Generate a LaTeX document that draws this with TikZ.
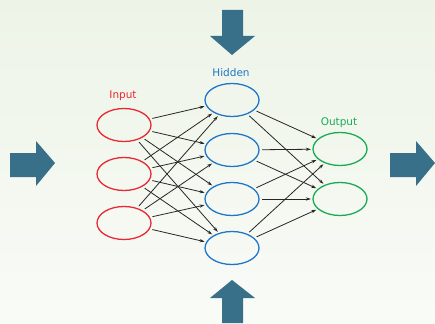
\documentclass[tikz,border=0pt]{standalone}
\usepackage{fontspec}
\setmainfont{DejaVu Sans}
\usetikzlibrary{arrows.meta,shapes.geometric}
\definecolor{bgtop}{RGB}{237,244,231}
\definecolor{bgbot}{RGB}{249,251,247}
\definecolor{arrowblue}{RGB}{56,112,137}
\definecolor{inred}{RGB}{232,40,50}
\definecolor{hidblue}{RGB}{30,118,200}
\definecolor{outgreen}{RGB}{25,170,85}
\tikzset{
  neuron/.style={ellipse,draw,line width=1.3pt,minimum width=54pt,minimum height=33pt,inner sep=0pt},
  inneuron/.style={neuron,draw=inred},
  hidneuron/.style={neuron,draw=hidblue},
  outneuron/.style={neuron,draw=outgreen},
  conn/.style={draw=black!85,line width=0.8pt,-{Stealth[length=5pt,width=3.2pt]},shorten >=1.5pt,shorten <=2.5pt},
  lbl/.style={font=\fontsize{10.5}{12}\selectfont,inner sep=0pt},
  bigarrow/.style={fill=arrowblue,draw=none}
}
\begin{document}
\begin{tikzpicture}[x=1pt,y=-1pt]
\shade[top color=bgtop,bottom color=bgbot] (0,0) rectangle (435,323);
\useasboundingbox (0,0) rectangle (435,323);
% big arrows
\fill[bigarrow] (222,10) -- (243,10) -- (243,36) -- (255,36) -- (232,55) -- (210,36) -- (222,36) -- cycle;
\fill[bigarrow] (222,323) -- (243,323) -- (243,298) -- (255,298) -- (232,280) -- (210,298) -- (222,298) -- cycle;
\fill[bigarrow] (10,153) -- (36,153) -- (36,141) -- (55,163) -- (36,186) -- (36,177) -- (10,177) -- cycle;
\fill[bigarrow] (390,153) -- (416,153) -- (416,141) -- (435,163) -- (416,186) -- (416,177) -- (390,177) -- cycle;
% neurons
\node[inneuron] (i1) at (124,125) {};
\node[inneuron] (i2) at (124,174) {};
\node[inneuron] (i3) at (124,223) {};
\node[hidneuron] (h1) at (232,100) {};
\node[hidneuron] (h2) at (232,150) {};
\node[hidneuron] (h3) at (232,199) {};
\node[hidneuron] (h4) at (232,248) {};
\node[outneuron] (o1) at (340,149) {};
\node[outneuron] (o2) at (340,199) {};
% labels
\node[lbl,text=inred] (li) at (123,96) {Input};
\node[lbl,text=hidblue] (lh) at (231,73) {Hidden};
\node[lbl,text=outgreen] (lo) at (339,123) {Output};
% connections
\foreach \i in {1,2,3}{\foreach \h in {1,2,3,4}{\draw[conn] (i\i) -- (h\h);}}
\foreach \h in {1,2,3,4}{\foreach \o in {1,2}{\draw[conn] (h\h) -- (o\o);}}
\end{tikzpicture}
\end{document}
